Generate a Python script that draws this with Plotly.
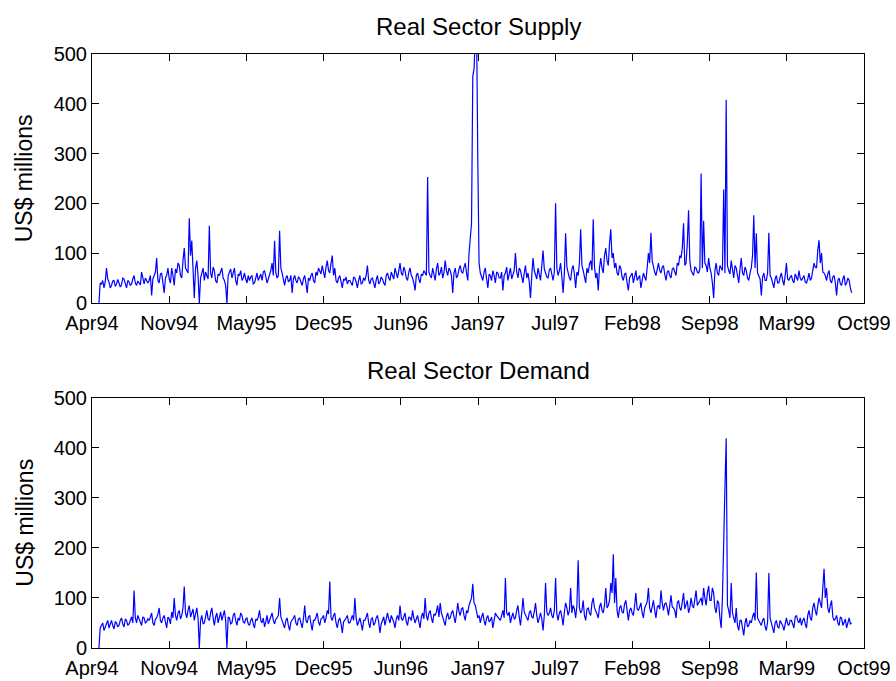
import plotly.graph_objects as go

# ---- data (one sample every ~3.25 days) ----
start_day = 18.0
step_day = 3.25

supply = [
    0, 40, 38, 45, 30, 42, 70, 48, 42, 30, 35, 44, 45, 33, 38, 47, 40, 32, 36, 50,
    48, 38, 30, 45, 42, 35, 38, 48, 55, 40, 35, 44, 40, 36, 62, 45, 38, 50, 45, 40,
    45, 55, 15, 48, 55, 62, 90, 45, 40, 58, 60, 35, 20, 50, 55, 70, 48, 40, 70, 55,
    35, 68, 60, 80, 75, 55, 50, 85, 110, 70, 65, 60, 170, 95, 125, 60, 10, 70, 85, 55,
    0, 50, 60, 70, 45, 62, 55, 48, 155, 60, 50, 72, 65, 45, 40, 58, 55, 65, 70, 50,
    45, 35, 0, 55, 60, 68, 50, 62, 70, 45, 35, 58, 55, 65, 45, 50, 60, 48, 40, 55,
    45, 52, 55, 38, 40, 50, 60, 45, 50, 58, 45, 62, 65, 50, 40, 48, 55, 65, 80, 55,
    125, 60, 50, 55, 145, 70, 60, 45, 35, 50, 55, 42, 45, 55, 20, 48, 55, 45, 40, 52,
    50, 42, 35, 48, 55, 40, 20, 50, 45, 55, 60, 45, 40, 62, 55, 70, 65, 58, 75, 60,
    50, 72, 85, 65, 60, 80, 95, 55, 70, 45, 40, 50, 55, 42, 30, 48, 45, 52, 38, 45,
    45, 40, 35, 52, 50, 42, 30, 45, 55, 38, 40, 50, 45, 55, 75, 45, 38, 48, 50, 40,
    30, 46, 55, 38, 42, 52, 48, 40, 35, 55, 60, 50, 45, 62, 55, 48, 70, 58, 50, 65,
    80, 60, 55, 72, 65, 50, 45, 62, 70, 55, 50, 40, 25, 55, 60, 48, 40, 58, 55, 65,
    60, 55, 253, 62, 55, 50, 70, 58, 45, 68, 80, 55, 60, 72, 50, 60, 85, 65, 55, 70,
    65, 55, 20, 60, 70, 50, 55, 68, 75, 62, 60, 72, 80, 60, 45, 100, 130, 160, 455, 470,
    530, 560, 285, 80, 60, 52, 45, 62, 70, 48, 30, 58, 55, 45, 65, 55, 40, 62, 60, 50,
    50, 62, 25, 55, 60, 72, 45, 58, 70, 48, 55, 65, 100, 62, 50, 70, 65, 52, 40, 60,
    75, 50, 60, 42, 10, 55, 90, 65, 55, 48, 70, 60, 45, 75, 105, 68, 60, 52, 50, 66,
    70, 55, 45, 62, 200, 70, 55, 65, 80, 52, 20, 60, 140, 72, 60, 50, 45, 68, 75, 58,
    30, 62, 55, 80, 148, 75, 65, 55, 40, 70, 60, 78, 85, 65, 168, 72, 50, 60, 25, 70,
    90, 70, 60, 95, 110, 85, 75, 120, 148, 90, 100, 70, 80, 60, 55, 75, 70, 52, 45, 58,
    60, 40, 25, 50, 55, 60, 40, 52, 65, 45, 50, 55, 30, 48, 60, 52, 45, 70, 100, 80,
    141, 85, 70, 62, 55, 70, 80, 65, 60, 72, 75, 58, 45, 62, 65, 55, 50, 68, 70, 62,
    55, 80, 75, 95, 90, 110, 160, 75, 80, 120, 186, 85, 65, 60, 55, 72, 70, 62, 60, 68,
    260, 70, 165, 80, 75, 62, 90, 70, 60, 40, 10, 65, 80, 60, 55, 75, 70, 65, 228, 60,
    408, 75, 65, 58, 85, 62, 50, 75, 70, 55, 40, 68, 90, 60, 55, 72, 65, 50, 45, 60,
    70, 95, 176, 70, 140, 60, 55, 48, 15, 52, 60, 45, 45, 60, 141, 55, 50, 42, 30, 48,
    55, 40, 40, 52, 60, 45, 35, 55, 80, 48, 45, 52, 55, 45, 40, 58, 50, 45, 65, 50,
    45, 50, 55, 42, 40, 48, 60, 45, 50, 65, 80, 72, 70, 105, 126, 80, 100, 62, 60, 55,
    45, 58, 65, 45, 40, 52, 55, 40, 15, 45, 50, 38, 35, 48, 55, 35, 40, 50, 45, 30,
    20,
]

demand = [
    0, 40, 45, 50, 35, 42, 50, 55, 40, 48, 55, 45, 38, 52, 50, 42, 45, 55, 60, 48,
    42, 58, 55, 45, 48, 55, 62, 50, 115, 60, 50, 65, 58, 48, 45, 62, 60, 50, 52, 58,
    55, 62, 70, 50, 45, 58, 60, 68, 80, 55, 50, 60, 65, 52, 40, 62, 58, 48, 72, 60,
    100, 65, 55, 70, 75, 58, 65, 80, 123, 70, 60, 75, 85, 62, 70, 78, 55, 65, 80, 60,
    0, 55, 65, 48, 50, 62, 75, 58, 55, 70, 80, 60, 45, 62, 70, 50, 60, 72, 55, 65,
    75, 55, 0, 62, 60, 48, 50, 65, 70, 55, 45, 60, 55, 70, 65, 52, 50, 58, 60, 48,
    45, 55, 60, 48, 40, 58, 55, 62, 75, 55, 50, 60, 42, 52, 65, 48, 55, 62, 70, 55,
    48, 58, 60, 65, 100, 62, 55, 50, 40, 55, 60, 45, 35, 52, 55, 60, 65, 50, 45, 58,
    60, 50, 40, 58, 85, 55, 50, 62, 65, 48, 35, 55, 55, 62, 70, 52, 45, 58, 60, 65,
    50, 60, 75, 68, 133, 60, 55, 65, 70, 50, 40, 55, 60, 48, 30, 52, 55, 60, 65, 50,
    50, 58, 65, 55, 100, 60, 45, 52, 60, 48, 35, 55, 55, 62, 70, 50, 40, 58, 60, 45,
    50, 60, 65, 52, 30, 48, 55, 62, 45, 55, 70, 58, 50, 65, 60, 52, 40, 58, 65, 55,
    85, 60, 55, 65, 70, 52, 45, 62, 60, 55, 75, 60, 50, 58, 65, 52, 40, 62, 70, 58,
    100, 65, 55, 70, 75, 60, 50, 68, 65, 72, 85, 62, 90, 70, 60, 55, 45, 62, 70, 58,
    60, 70, 75, 62, 50, 68, 90, 72, 65, 78, 80, 65, 55, 75, 70, 85, 95, 100, 128, 90,
    85, 72, 60, 65, 50, 62, 70, 55, 45, 60, 65, 52, 55, 62, 40, 55, 70, 65, 60, 58,
    55, 68, 75, 60, 140, 70, 65, 72, 50, 62, 70, 58, 60, 75, 85, 62, 45, 70, 100, 72,
    65, 58, 55, 70, 75, 62, 60, 72, 90, 65, 50, 60, 70, 58, 35, 65, 130, 72, 65, 70,
    80, 65, 60, 75, 140, 68, 55, 70, 75, 62, 45, 72, 90, 80, 65, 75, 120, 70, 85, 78,
    60, 85, 175, 80, 70, 75, 95, 65, 55, 78, 80, 70, 65, 90, 100, 80, 75, 68, 60, 82,
    90, 75, 70, 85, 120, 80, 85, 95, 130, 110, 187, 90, 140, 75, 60, 80, 85, 72, 70, 88,
    95, 70, 55, 75, 80, 70, 65, 85, 110, 78, 75, 82, 90, 70, 60, 80, 85, 92, 120, 80,
    70, 85, 95, 75, 60, 82, 85, 78, 115, 90, 75, 88, 90, 80, 65, 85, 105, 82, 80, 75,
    60, 90, 95, 80, 75, 92, 110, 78, 85, 95, 70, 80, 100, 85, 80, 100, 115, 85, 90, 95,
    100, 85, 120, 100, 85, 110, 124, 95, 95, 120, 110, 80, 70, 95, 90, 60, 40, 100, 245, 320,
    419, 85, 75, 60, 130, 70, 60, 50, 80, 45, 35, 55, 55, 40, 25, 50, 60, 42, 45, 55,
    50, 62, 70, 55, 151, 60, 55, 48, 45, 55, 60, 42, 35, 52, 150, 60, 50, 45, 30, 50,
    55, 42, 40, 55, 50, 45, 35, 52, 60, 48, 45, 55, 55, 48, 40, 62, 65, 55, 50, 60,
    45, 55, 60, 48, 40, 65, 75, 60, 55, 80, 90, 75, 65, 85, 100, 90, 80, 120, 158, 100,
    120, 80, 70, 85, 95, 62, 55, 58, 65, 50, 45, 62, 60, 45, 50, 58, 40, 52, 60, 48,
    50,
]

tick_days = [0, 200, 400, 600, 800, 1000, 1200, 1400, 1600, 1800, 2000]
tick_labels = ["Apr94", "Nov94", "May95", "Dec95", "Jun96", "Jan97",
               "Jul97", "Feb98", "Sep98", "Mar99", "Oct99"]
y_ticks = [0, 100, 200, 300, 400, 500]
titles = ["Real Sector Supply", "Real Sector Demand"]
y_label = "US$ millions"

days_s = [start_day + step_day * i for i in range(len(supply))]
days_d = [start_day + step_day * i for i in range(len(demand))]

FONT = "Liberation Sans, Arial, sans-serif"

fig = go.Figure()
fig.add_trace(go.Scatter(x=days_s, y=supply, mode="lines",
                         line=dict(color="#0000ff", width=1.2),
                         xaxis="x", yaxis="y", showlegend=False))
fig.add_trace(go.Scatter(x=days_d, y=demand, mode="lines",
                         line=dict(color="#0000ff", width=1.2),
                         xaxis="x2", yaxis="y2", showlegend=False))

ax_common = dict(showline=True, linecolor="black", linewidth=1, mirror="ticks",
                 ticks="inside", ticklen=7, tickcolor="black", tickwidth=1,
                 showgrid=False, zeroline=False, automargin=False,
                 tickfont=dict(family=FONT, size=20, color="black"))

top_dom = [0.581, 1.0]
bot_dom = [0.0, 0.4214]

fig.update_layout(
    width=896, height=681,
    margin=dict(l=92, r=32, t=54, b=33),
    paper_bgcolor="white", plot_bgcolor="white",
    xaxis=dict(domain=[0, 1], range=[0, 2000], tickvals=tick_days, ticktext=tick_labels,
               anchor="y", ticklabelstandoff=2, **ax_common),
    yaxis=dict(domain=top_dom, range=[0, 500], tickvals=y_ticks, anchor="x", **ax_common),
    xaxis2=dict(domain=[0, 1], range=[0, 2000], tickvals=tick_days, ticktext=tick_labels,
                anchor="y2", ticklabelstandoff=2, **ax_common),
    yaxis2=dict(domain=bot_dom, range=[0, 500], tickvals=y_ticks, anchor="x2", **ax_common),
)

annots = []
for title, dom in zip(titles, [top_dom, bot_dom]):
    annots.append(dict(text=title, xref="paper", yref="paper", x=0.5, y=dom[1],
                       xanchor="center", yanchor="bottom", yshift=12, showarrow=False,
                       font=dict(family=FONT, size=24, color="black")))
    annots.append(dict(text=y_label, xref="paper", yref="paper", x=-0.087,
                       y=(dom[0] + dom[1]) / 2, xanchor="center", yanchor="middle",
                       textangle=-90, showarrow=False,
                       font=dict(family=FONT, size=23, color="black")))
fig.update_layout(annotations=annots)

fig.write_html("out.html")
